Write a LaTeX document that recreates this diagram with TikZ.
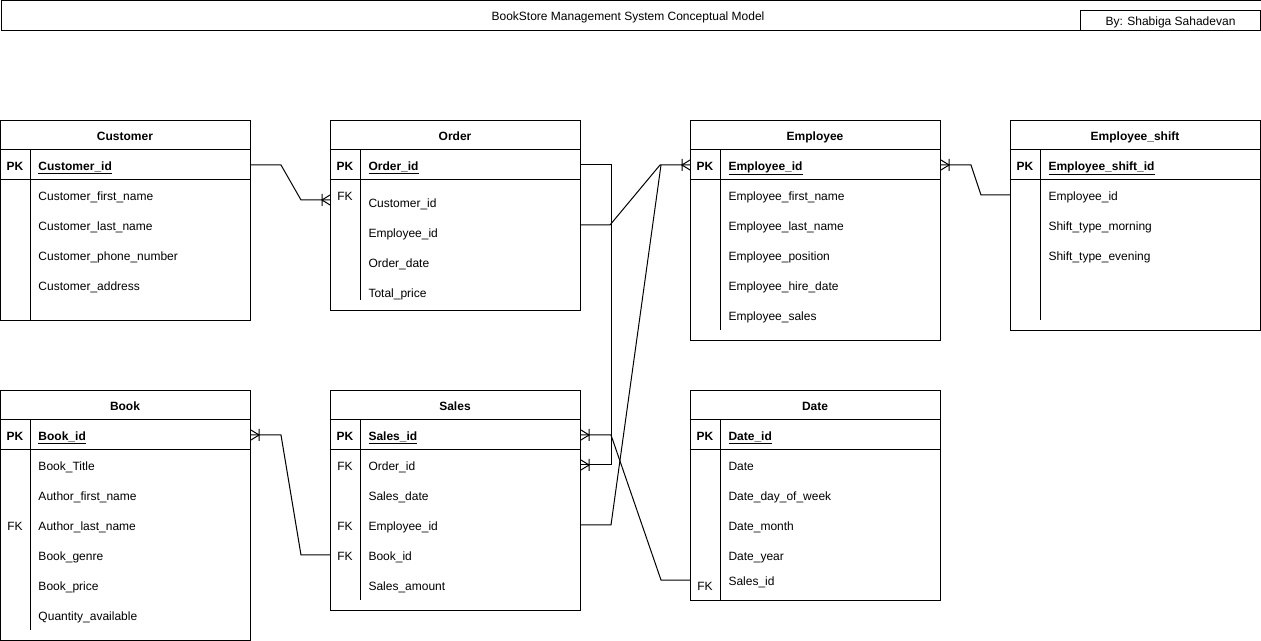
\documentclass[tikz,border=0pt]{standalone}
\usepackage{fontspec}
\setmainfont{Liberation Sans}
% header rule, key-row rule and key column divider of one entity table
% #1 = left x, #2 = top y, #3 = bottom y of the divider (pixel units)
\newcommand\ergrid[3]{%
  \draw (#1,#2+30) -- (#1+250,#2+30);
  \draw (#1,#2+60) -- (#1+250,#2+60);
  \draw (#1+30,#2+30) -- (#1+30,#3);
}
\begin{document}
\begin{tikzpicture}[x=0.75pt,y=-0.75pt,line width=0.75pt,
  every node/.style={inner sep=0pt,font=\fontsize{9}{11}\selectfont,text height=8pt,text depth=0pt},
  tbl/.style={draw,anchor=north west,minimum width=187.5pt},
  head/.style={font=\fontsize{9}{11}\selectfont\bfseries},
  field/.style={anchor=west},
  pkfield/.style={anchor=west,font=\fontsize{9}{11}\selectfont\bfseries},
  keycol/.style={},
  pkcol/.style={font=\fontsize{9}{11}\selectfont\bfseries},
  crow/.pic={\draw (0,-5) -- (-8,0) -- (0,5) (-8,-6) -- (-8,6);}]
\useasboundingbox (0,0) rectangle (1261,641);

% title bar
\node[draw,anchor=north west,minimum width=945pt,minimum height=22.5pt] (titlebar) at (0.5,0.5) {};
\node (title) at (628,15) {BookStore Management System Conceptual Model};
\node[draw,anchor=north west,minimum width=135pt,minimum height=15pt] (authorbox) at (1080,10) {};
\node (author) at (authorbox.center) {By: Shabiga Sahadevan};

% Customer
\node[tbl,minimum height=150pt] (customer) at (0,120) {};
\ergrid{0}{120}{320}
\node[head] (customer-title) at (125,135) {Customer};
\node[pkcol] at (15,165) {PK};
\node[pkfield] (cust-id) at (38,165) {\underline{Customer\_id}};
\node[field] (cust-fn) at (38,195) {Customer\_first\_name};
\node[field] (cust-ln) at (38,225) {Customer\_last\_name};
\node[field] (cust-ph) at (38,255) {Customer\_phone\_number};
\node[field] (cust-ad) at (38,285) {Customer\_address};

% Order
\node[tbl,minimum height=142.5pt] (order) at (330,120) {};
\ergrid{330}{120}{300}
\node[head] (order-title) at (455,135) {Order};
\node[pkcol] at (345,165) {PK};
\node[pkfield] (ord-id) at (368,165) {\underline{Order\_id}};
\node[keycol] at (345,195) {FK};
\node[field] (ord-cust) at (368,202) {Customer\_id};
\node[field] (ord-emp) at (368,232) {Employee\_id};
\node[field] (ord-date) at (368,262) {Order\_date};
\node[field] (ord-price) at (368,292) {Total\_price};
\coordinate (ord-cust-end) at (330,200);
\coordinate (ord-emp-end) at (580,225);

% Employee
\node[tbl,minimum height=165pt] (employee) at (690,120) {};
\ergrid{690}{120}{330}
\node[head] (employee-title) at (815,135) {Employee};
\node[pkcol] at (705,165) {PK};
\node[pkfield] (emp-id) at (728,165) {\underline{Employee\_id}};
\node[field] (emp-fn) at (728,195) {Employee\_first\_name};
\node[field] (emp-ln) at (728,225) {Employee\_last\_name};
\node[field] (emp-pos) at (728,255) {Employee\_position};
\node[field] (emp-hire) at (728,285) {Employee\_hire\_date};
\node[field] (emp-sales) at (728,315) {Employee\_sales};

% Employee_shift
\node[tbl,minimum height=157.5pt] (shift) at (1010,120) {};
\ergrid{1010}{120}{320}
\node[head] (shift-title) at (1135,135) {Employee\_shift};
\node[pkcol] at (1025,165) {PK};
\node[pkfield] (sh-id) at (1048,165) {\underline{Employee\_shift\_id}};
\node[field] (sh-emp) at (1048,195) {Employee\_id};
\node[field] (sh-morn) at (1048,225) {Shift\_type\_morning};
\node[field] (sh-even) at (1048,255) {Shift\_type\_evening};

% Book
\node[tbl,minimum height=187.5pt] (book) at (0,390) {};
\ergrid{0}{390}{630}
\node[head] (book-title) at (125,405) {Book};
\node[pkcol] at (15,435) {PK};
\node[pkfield] (book-id) at (38,435) {\underline{Book\_id}};
\node[field] (book-title-f) at (38,465) {Book\_Title};
\node[field] (book-afn) at (38,495) {Author\_first\_name};
\node[keycol] at (15,525) {FK};
\node[field] (book-aln) at (38,525) {Author\_last\_name};
\node[field] (book-genre) at (38,555) {Book\_genre};
\node[field] (book-price) at (38,585) {Book\_price};
\node[field] (book-qty) at (38,615) {Quantity\_available};

% Sales
\node[tbl,minimum height=165pt] (sales) at (330,390) {};
\ergrid{330}{390}{600}
\node[head] (sales-title) at (455,405) {Sales};
\node[pkcol] at (345,435) {PK};
\node[pkfield] (sal-id) at (368,435) {\underline{Sales\_id}};
\node[keycol] at (345,465) {FK};
\node[field] (sal-ord) at (368,465) {Order\_id};
\node[field] (sal-date) at (368,495) {Sales\_date};
\node[keycol] at (345,525) {FK};
\node[field] (sal-emp) at (368,525) {Employee\_id};
\node[keycol] at (345,555) {FK};
\node[field] (sal-book) at (368,555) {Book\_id};
\node[field] (sal-amt) at (368,585) {Sales\_amount};

% Date
\node[tbl,minimum height=157.5pt] (date) at (690,390) {};
\ergrid{690}{390}{600}
\node[head] (date-title) at (815,405) {Date};
\node[pkcol] at (705,435) {PK};
\node[pkfield] (dt-id) at (728,435) {\underline{Date\_id}};
\node[field] (dt-date) at (728,465) {Date};
\node[field] (dt-dow) at (728,495) {Date\_day\_of\_week};
\node[field] (dt-month) at (728,525) {Date\_month};
\node[field] (dt-year) at (728,555) {Date\_year};
\node[keycol] at (705,585) {FK};
\node[field] (dt-sales) at (728,580) {Sales\_id};

% relationships
\draw (customer.east |- cust-id) -- ++(30,0) -- ++(20,35) -- (ord-cust-end);
\pic at (ord-cust-end) {crow};

\draw (order.east |- ord-id) -- ++(30,0) -- ++(0,300) -- (sales.east |- sal-ord);
\pic[xscale=-1] at (sales.east |- sal-ord) {crow};

\draw (ord-emp-end) -- ++(30,0) -- ++(50,-60) -- (employee.west |- emp-id);
\draw (sales.east |- sal-emp) -- ++(30,0) -- ++(50,-360);
\pic at (employee.west |- emp-id) {crow};

\draw (sales.east |- sal-id) -- ++(30,0) -- ++(50,145) -- (date.west |- dt-sales);
\pic[xscale=-1] at (sales.east |- sal-id) {crow};

\draw (book.east |- book-id) -- ++(30,0) -- ++(20,120) -- (sales.west |- sal-book);
\pic[xscale=-1] at (book.east |- book-id) {crow};

\draw (employee.east |- emp-id) -- ++(30,0) -- ++(10,30) -- (shift.west |- sh-emp);
\pic[xscale=-1] at (employee.east |- emp-id) {crow};
\end{tikzpicture}
\end{document}
